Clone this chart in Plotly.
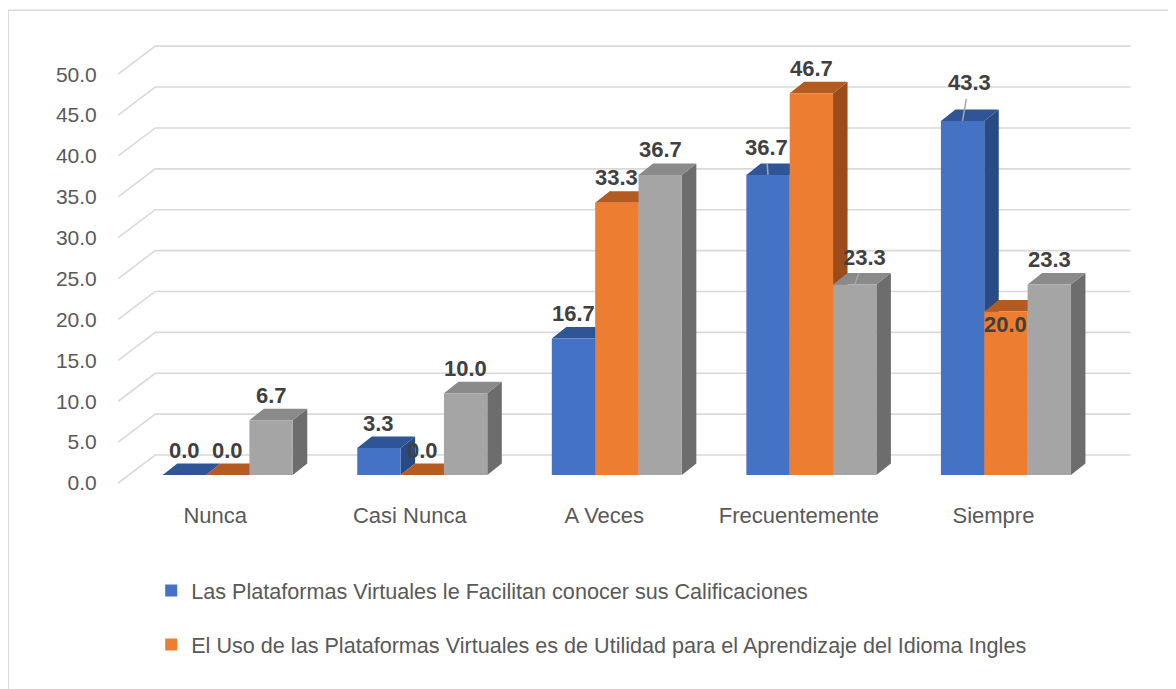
import plotly.graph_objects as go

# --- data ---
categories = ["Nunca", "Casi Nunca", "A Veces", "Frecuentemente", "Siempre"]
calificaciones = [0.0, 3.3, 16.7, 36.7, 43.3]
utilidad = [0.0, 0.0, 33.3, 46.7, 20.0]
tercera = [6.7, 10.0, 36.7, 23.3, 23.3]
series_names = [
    "Las Plataformas Virtuales le Facilitan conocer sus Calificaciones",
    "El Uso de las Plataformas Virtuales es de Utilidad para el Aprendizaje del Idioma Ingles",
    "Serie 3",
]
y_ticks = [0, 5, 10, 15, 20, 25, 30, 35, 40, 45, 50]

series = [calificaciones, utilidad, tercera]
show_in_legend = [True, True, False]

# --- colours: front / top / side of each 3D bar ---
front_col = ["#4472C4", "#ED7D31", "#A5A5A5"]
top_col = ["#2F5597", "#B45B21", "#8A8A8A"]
side_col = ["#284A85", "#9A4D1B", "#6D6D6D"]

# --- pixel geometry (reference pixels; the page body adds an 8px offset) ---
BODY = 8
W_PX, H_PX = 1176 - BODY, 689 - BODY
X0_PX, PX_PER_X = 227.5 - BODY, 194.5     # pixel of category 0, pixels per category
Y0_PX, PX_PER_Y = 475.0 - BODY, 8.18      # pixel of value 0 at bar front, pixels per unit
XMIN, XMAX = -0.6, 4.72
YMIN, YMAX = -2.2, 53.2

left = X0_PX + XMIN * PX_PER_X
right = X0_PX + XMAX * PX_PER_X
top = Y0_PX - YMAX * PX_PER_Y
bottom = Y0_PX - YMIN * PX_PER_Y


def paper_x(px):
    return (px - BODY - left) / (right - left)


def paper_y(py):
    return (bottom - (py - BODY)) / (bottom - top)


def dx(px):
    return px / PX_PER_X


def dy(px):
    return px / PX_PER_Y


BARGAP = 1 - 130 / PX_PER_X
BAR_W = (1 - BARGAP) / 3
DEPTH_X, DEPTH_Y = dx(14.5), dy(11.5)

# back wall / front axis geometry for the slanted gridlines
AXIS_FRONT_X = dx(118 - 227.5)
WALL_X0, WALL_X1 = dx(155 - 227.5), dx(1130 - 227.5)
AXIS_FRONT_DY, WALL_DY = dy(8), dy(20)

fig = go.Figure()

# gridlines on the base subplot (drawn beneath everything)
gx, gy = [], []
for v in y_ticks:
    gx += [AXIS_FRONT_X, WALL_X0, WALL_X1, None]
    gy += [v - AXIS_FRONT_DY, v + WALL_DY, v + WALL_DY, None]
fig.add_trace(go.Scatter(x=gx, y=gy, mode="lines", line=dict(color="#d9d9d9", width=1.6),
                         hoverinfo="skip", showlegend=False, xaxis="x", yaxis="y"))

# side and top faces (middle overlay), drawn series by series
for k, vals in enumerate(series):
    tx, ty, sx, sy = [], [], [], []
    for i, v in enumerate(vals):
        xl = i + (k - 1) * BAR_W - BAR_W / 2
        xr = xl + BAR_W
        tx += [xl, xr, xr + DEPTH_X, xl + DEPTH_X, xl, None]
        ty += [v, v, v + DEPTH_Y, v + DEPTH_Y, v, None]
        sx += [xr, xr + DEPTH_X, xr + DEPTH_X, xr, xr, None]
        sy += [0, DEPTH_Y, v + DEPTH_Y, v, 0, None]
    fig.add_trace(go.Scatter(x=sx, y=sy, mode="lines", fill="toself", fillcolor=side_col[k],
                             line=dict(width=0, color=side_col[k]), hoverinfo="skip",
                             showlegend=False, xaxis="x2", yaxis="y2"))
    fig.add_trace(go.Scatter(x=tx, y=ty, mode="lines", fill="toself", fillcolor=top_col[k],
                             line=dict(width=0, color=top_col[k]), hoverinfo="skip",
                             showlegend=False, xaxis="x2", yaxis="y2"))

# front faces (top overlay)
for k, vals in enumerate(series):
    fig.add_trace(go.Bar(
        x=list(range(len(categories))), y=vals, name=series_names[k],
        marker=dict(color=front_col[k], line=dict(width=0)),
        showlegend=show_in_legend[k], legend="legend" if k == 0 else "legend2",
        xaxis="x3", yaxis="y3", hovertemplate="%{y:.1f}<extra></extra>",
    ))

# data labels; a few were moved by hand in the original and carry a leader line
LEADERS = {(4, 0): (6.5, -38), (3, 0): (-2, -27), (3, 2): (10, -27)}
INSIDE = {(4, 1): -13}
label_font = dict(family="Liberation Sans, Arial, sans-serif", size=22, color="#404040", weight="bold")
annotations = []
for k, vals in enumerate(series):
    for i, v in enumerate(vals):
        cx = i + (k - 1) * BAR_W
        a = dict(x=cx, y=v, xref="x3", yref="y3", text=f"{v:.1f}", font=label_font)
        if (i, k) in LEADERS:
            ax, ay = LEADERS[(i, k)]
            a.update(showarrow=True, ax=ax, ay=ay, arrowhead=0, arrowwidth=1.5,
                     arrowcolor="#a6a6a6", standoff=0, startstandoff=2)
        else:
            a.update(showarrow=False, yshift=INSIDE.get((i, k), 25))
        annotations.append(a)

tick_font = dict(family="Liberation Sans, Arial, sans-serif", size=21, color="#595959")
legend_font = dict(family="Liberation Sans, Arial, sans-serif", size=21.6, color="#595959")
fig.update_layout(
    width=W_PX, height=H_PX,
    margin=dict(l=left, r=W_PX - right, t=top, b=H_PX - bottom, pad=0),
    paper_bgcolor="white", plot_bgcolor="white",
    barmode="group", bargap=BARGAP, bargroupgap=0,
    xaxis=dict(range=[XMIN, XMAX], showgrid=False, zeroline=False, showline=False,
               tickmode="array", tickvals=[i - dx(12.5) for i in range(len(categories))],
               ticktext=categories, ticks="outside", ticklen=3, tickcolor="rgba(0,0,0,0)",
               tickfont=dict(family="Liberation Sans, Arial, sans-serif", size=22, color="#595959")),
    yaxis=dict(range=[YMIN, YMAX], showgrid=False, zeroline=False, showline=False,
               tickmode="array", tickvals=[v - AXIS_FRONT_DY for v in y_ticks],
               ticktext=[f"{v:.1f}" for v in y_ticks], ticks="outside", ticklen=9,
               tickcolor="rgba(0,0,0,0)", tickfont=tick_font),
    xaxis2=dict(range=[XMIN, XMAX], overlaying="x", anchor="y2", visible=False),
    yaxis2=dict(range=[YMIN, YMAX], overlaying="y", anchor="x2", visible=False),
    xaxis3=dict(range=[XMIN, XMAX], overlaying="x", anchor="y3", visible=False),
    yaxis3=dict(range=[YMIN, YMAX], overlaying="y", anchor="x3", visible=False),
    legend=dict(x=paper_x(151), y=paper_y(591), xanchor="left", yanchor="middle",
                bgcolor="rgba(0,0,0,0)", font=legend_font),
    legend2=dict(x=paper_x(151), y=paper_y(645), xanchor="left", yanchor="middle",
                 bgcolor="rgba(0,0,0,0)", font=legend_font),
    annotations=annotations,
    shapes=[dict(type="rect", xref="paper", yref="paper",
                 x0=paper_x(8), x1=paper_x(1176 + 20), y0=paper_y(689 + 20), y1=paper_y(10),
                 line=dict(color="#d9d9d9", width=1.5), fillcolor="rgba(0,0,0,0)", layer="below")],
)

fig.write_html("out.html")
